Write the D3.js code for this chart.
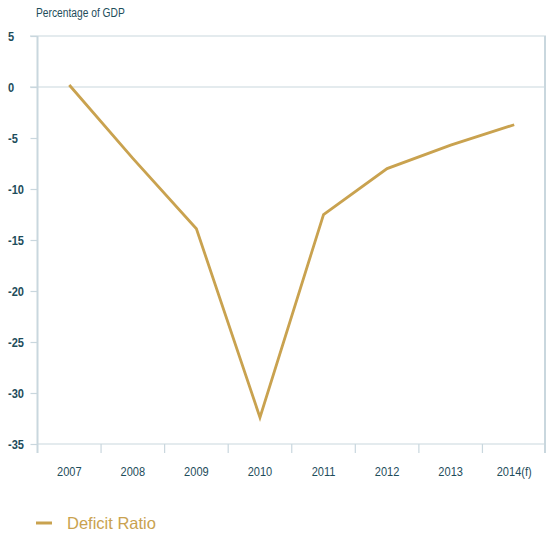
<!DOCTYPE html>
<html>
<head>
<meta charset="utf-8">
<script src="https://cdn.jsdelivr.net/npm/d3@7"></script>
<style>
  html, body { margin: 0; padding: 0; background: #ffffff; }
  svg { display: block; }
  .cond { font-family: "Liberation Sans", Arial, sans-serif; }
</style>
</head>
<body>
<svg id="chart" width="548" height="534"></svg>
<script>
// Government deficit as a share of GDP
const years = ["2007", "2008", "2009", "2010", "2011", "2012", "2013", "2014(f)"];
const deficitRatio = [0.2, -7.0, -13.9, -32.4, -12.5, -8.0, -5.7, -3.7];
const yTicks = [5, 0, -5, -10, -15, -20, -25, -30, -35];
const unitLabel = "Percentage of GDP";
const seriesName = "Deficit Ratio";

const gold = "#c9a24f";
const teal = "#1e4d5b";
const axisGrey = "#c9d7de";
const squeeze = 0.82; // horizontal compression for the condensed axis type

const svg = d3.select("#chart");
const plot = { left: 37.5, right: 546, top: 36, bottom: 444 };

const x = d3.scaleBand().domain(years).range([plot.left, plot.right]).padding(0);
const y = d3.scaleLinear().domain([-35, 5]).range([plot.bottom, plot.top]);

// unit caption
svg.append("text")
  .attr("class", "cond")
  .attr("transform", `scale(${squeeze},1)`)
  .attr("x", 36 / squeeze).attr("y", 17)
  .attr("fill", teal)
  .attr("font-size", 12.5)
  .text(unitLabel);

// horizontal rules at the top of the scale and at zero
svg.append("g").selectAll("line")
  .data([5, 0])
  .join("line")
  .attr("x1", 30).attr("x2", plot.right)
  .attr("y1", d => y(d)).attr("y2", d => y(d))
  .attr("stroke", axisGrey).attr("stroke-width", 1.2);

// left axis, plain hyphen for negatives
const yAxis = svg.append("g")
  .attr("transform", `translate(${plot.left},0)`)
  .call(d3.axisLeft(y).tickValues(yTicks).tickSize(7).tickFormat(d => String(d)));
yAxis.select(".domain").attr("stroke", axisGrey).attr("stroke-width", 2)
  .attr("d", `M0,${plot.top}V${plot.bottom + 9}`);
yAxis.selectAll(".tick line").attr("stroke", axisGrey).attr("stroke-width", 1.2);
yAxis.selectAll(".tick text")
  .attr("class", "cond")
  .attr("transform", `scale(${squeeze},1)`)
  .attr("text-anchor", "start")
  .attr("x", -29.5 / squeeze)
  .attr("dy", "0.36em")
  .attr("fill", teal)
  .attr("font-size", 13.5)
  .attr("font-weight", "bold");

// right border
svg.append("line")
  .attr("x1", plot.right - 1).attr("x2", plot.right - 1)
  .attr("y1", plot.top).attr("y2", plot.bottom + 9)
  .attr("stroke", axisGrey).attr("stroke-width", 2);

// bottom axis with band boundary ticks
const xAxis = svg.append("g")
  .attr("transform", `translate(0,${plot.bottom})`)
  .call(d3.axisBottom(x).tickSize(0).tickPadding(22));
xAxis.select(".domain").attr("stroke", axisGrey).attr("stroke-width", 1.2)
  .attr("d", `M${plot.left},0H${plot.right}`);
xAxis.selectAll(".tick text")
  .attr("class", "cond")
  .attr("transform", `scale(${squeeze},1)`)
  .attr("fill", teal)
  .attr("font-size", 13.5);
xAxis.append("g").selectAll("line")
  .data(years.slice(1))
  .join("line")
  .attr("x1", d => x(d)).attr("x2", d => x(d))
  .attr("y1", 0).attr("y2", 9)
  .attr("stroke", axisGrey).attr("stroke-width", 1.2);

// deficit line
const line = d3.line()
  .x((d, i) => x(years[i]) + x.bandwidth() / 2)
  .y(d => y(d));
svg.append("path")
  .datum(deficitRatio)
  .attr("d", line)
  .attr("fill", "none")
  .attr("stroke", gold)
  .attr("stroke-width", 2.8)
  .attr("stroke-linejoin", "miter");

// legend
const legend = svg.append("g").attr("transform", "translate(36,523)");
legend.append("line")
  .attr("x1", 0).attr("x2", 16)
  .attr("stroke", gold).attr("stroke-width", 3);
legend.append("text")
  .attr("x", 31).attr("y", 5.5)
  .attr("fill", gold)
  .attr("font-family", "Liberation Sans, Arial, sans-serif")
  .attr("font-size", 16.5)
  .text(seriesName);
</script>
</body>
</html>
